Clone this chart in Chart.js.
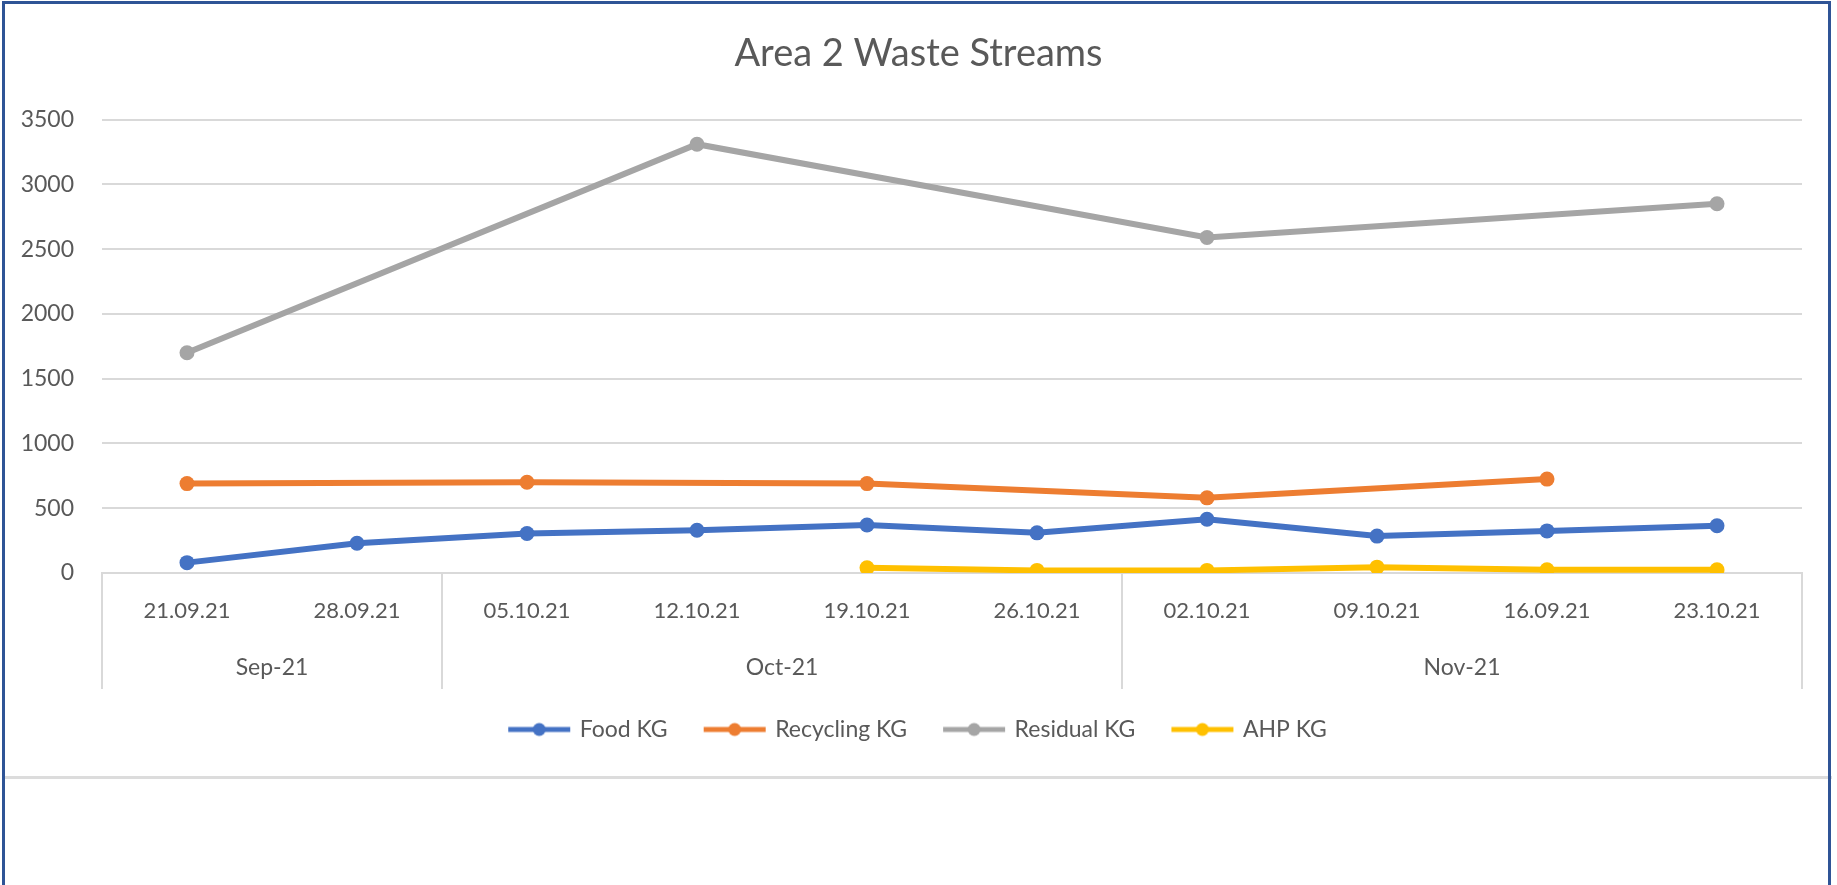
<!DOCTYPE html>
<html>
<head>
<meta charset="utf-8">
<script src="https://cdn.jsdelivr.net/npm/chart.js@4.4.1/dist/chart.umd.min.js"></script>
<style>
html,body{margin:0;padding:0;background:#fff;overflow:hidden}
#wrap{position:absolute;left:0;top:0;width:1837px;height:776px}
#rule{position:absolute;left:4px;top:776px;width:1828px;height:3px;background:#dcdcdc}
#frame{position:absolute;left:2px;top:1px;width:1823px;height:900px;border:3px solid #2f5496;pointer-events:none}
</style>
</head>
<body>
<div id="wrap"><canvas id="wasteChart"></canvas></div>
<div id="rule"></div>
<div id="frame"></div>
<script>
// weeks, grouped by month on the lower axis level
const categories = ["21.09.21","28.09.21","05.10.21","12.10.21","19.10.21","26.10.21","02.10.21","09.10.21","16.09.21","23.10.21"]
const groupLabels = ["Sep-21","Oct-21","Nov-21"]
const groupSizes = [2,4,4]

const food = [80,230,305,330,370,310,415,285,325,365]
const recycling = [690,null,700,null,690,null,580,null,725,null]
const residual = [1700,null,null,3310,null,null,2590,null,null,2850]
const ahp = [null,null,null,null,40,20,20,45,25,25]

const yMax = 3500
const yStep = 500

const colors = ["#4472c4","#ed7d31","#a5a5a5","#ffc000"]
const FONT = "Lato"

// excel style legend key: line with a dot in the middle
function legendIcon(color){
  const c = document.createElement("canvas")
  c.width = 64
  c.height = 16
  const g = c.getContext("2d")
  g.strokeStyle = color
  g.lineWidth = 5
  g.beginPath()
  g.moveTo(1,8)
  g.lineTo(63,8)
  g.stroke()
  g.fillStyle = color
  g.beginPath()
  g.arc(32,8,6.5,0,Math.PI*2)
  g.fill()
  return c
}
const icons = colors.map(legendIcon)

function series(label,data,color){
  return {
    label:label,
    data:data,
    borderColor:color,
    backgroundColor:color,
    borderWidth:6,
    pointRadius:7.5,
    pointHoverRadius:7.5,
    pointBorderWidth:0,
    pointBackgroundColor:color,
    spanGaps:true,
    tension:0
  }
}

// month row + separators under the week labels
const groupAxis = {
  id:"groupAxis",
  afterDraw(chart){
    const x = chart.scales.x
    const ctx = chart.ctx
    const top = chart.chartArea.bottom
    const bottom = top + 116
    const half = (x.getPixelForValue(1) - x.getPixelForValue(0)) / 2
    ctx.save()
    ctx.strokeStyle = "#d9d9d9"
    ctx.lineWidth = 2
    ctx.fillStyle = "#595959"
    ctx.font = "23px " + FONT
    ctx.textAlign = "center"
    ctx.textBaseline = "middle"
    let start = 0
    const left0 = x.getPixelForValue(0) - half
    ctx.beginPath()
    ctx.moveTo(left0,top)
    ctx.lineTo(left0,bottom)
    ctx.stroke()
    groupSizes.forEach((n,g) => {
      const l = x.getPixelForValue(start) - half
      const r = x.getPixelForValue(start + n - 1) + half
      ctx.beginPath()
      ctx.moveTo(r,top)
      ctx.lineTo(r,bottom)
      ctx.stroke()
      ctx.fillText(groupLabels[g],(l + r) / 2,top + 95)
      start += n
    })
    ctx.restore()
  }
}

const el = document.getElementById("wasteChart")

new Chart(el,{
  type:"line",
  data:{
    labels:categories,
    datasets:[
      series("Food KG",food,colors[0]),
      series("Recycling KG",recycling,colors[1]),
      series("Residual KG",residual,colors[2]),
      series("AHP KG",ahp,colors[3])
    ]
  },
  options:{
    responsive:true,
    maintainAspectRatio:false,
    animation:false,
    layout:{padding:{left:0,right:0,top:0,bottom:25}},
    plugins:{
      title:{
        display:true,
        text:"Area 2 Waste Streams",
        color:"#595959",
        font:{family:FONT,size:38,weight:"normal"},
        padding:{top:31,bottom:43}
      },
      legend:{
        position:"bottom",
        labels:{
          usePointStyle:true,
          pointStyleWidth:58,
          padding:38,
          color:"#595959",
          font:{family:FONT,size:23},
          generateLabels(chart){
            const items = Chart.defaults.plugins.legend.labels.generateLabels(chart)
            items.forEach(it => { it.pointStyle = icons[it.datasetIndex] })
            return items
          }
        }
      },
      tooltip:{enabled:false}
    },
    scales:{
      x:{
        offset:true,
        grid:{display:false},
        border:{display:true,color:"#d9d9d9",width:2},
        ticks:{color:"#595959",font:{family:FONT,size:22},padding:17,maxRotation:0,autoSkip:false},
        afterFit(s){ s.height = 107 }
      },
      y:{
        min:0,
        max:yMax,
        grid:{color:"#d9d9d9",lineWidth:2,drawTicks:false},
        border:{display:false},
        ticks:{
          stepSize:yStep,
          color:"#595959",
          font:{family:FONT,size:23},
          padding:28,
          callback:v => String(v)
        },
        afterFit(s){ s.width = 102 }
      },
      pad:{
        position:"right",
        display:true,
        grid:{display:false},
        border:{display:false},
        ticks:{display:false},
        afterFit(s){ s.width = 35 }
      }
    }
  },
  plugins:[groupAxis]
})
</script>
</body>
</html>
